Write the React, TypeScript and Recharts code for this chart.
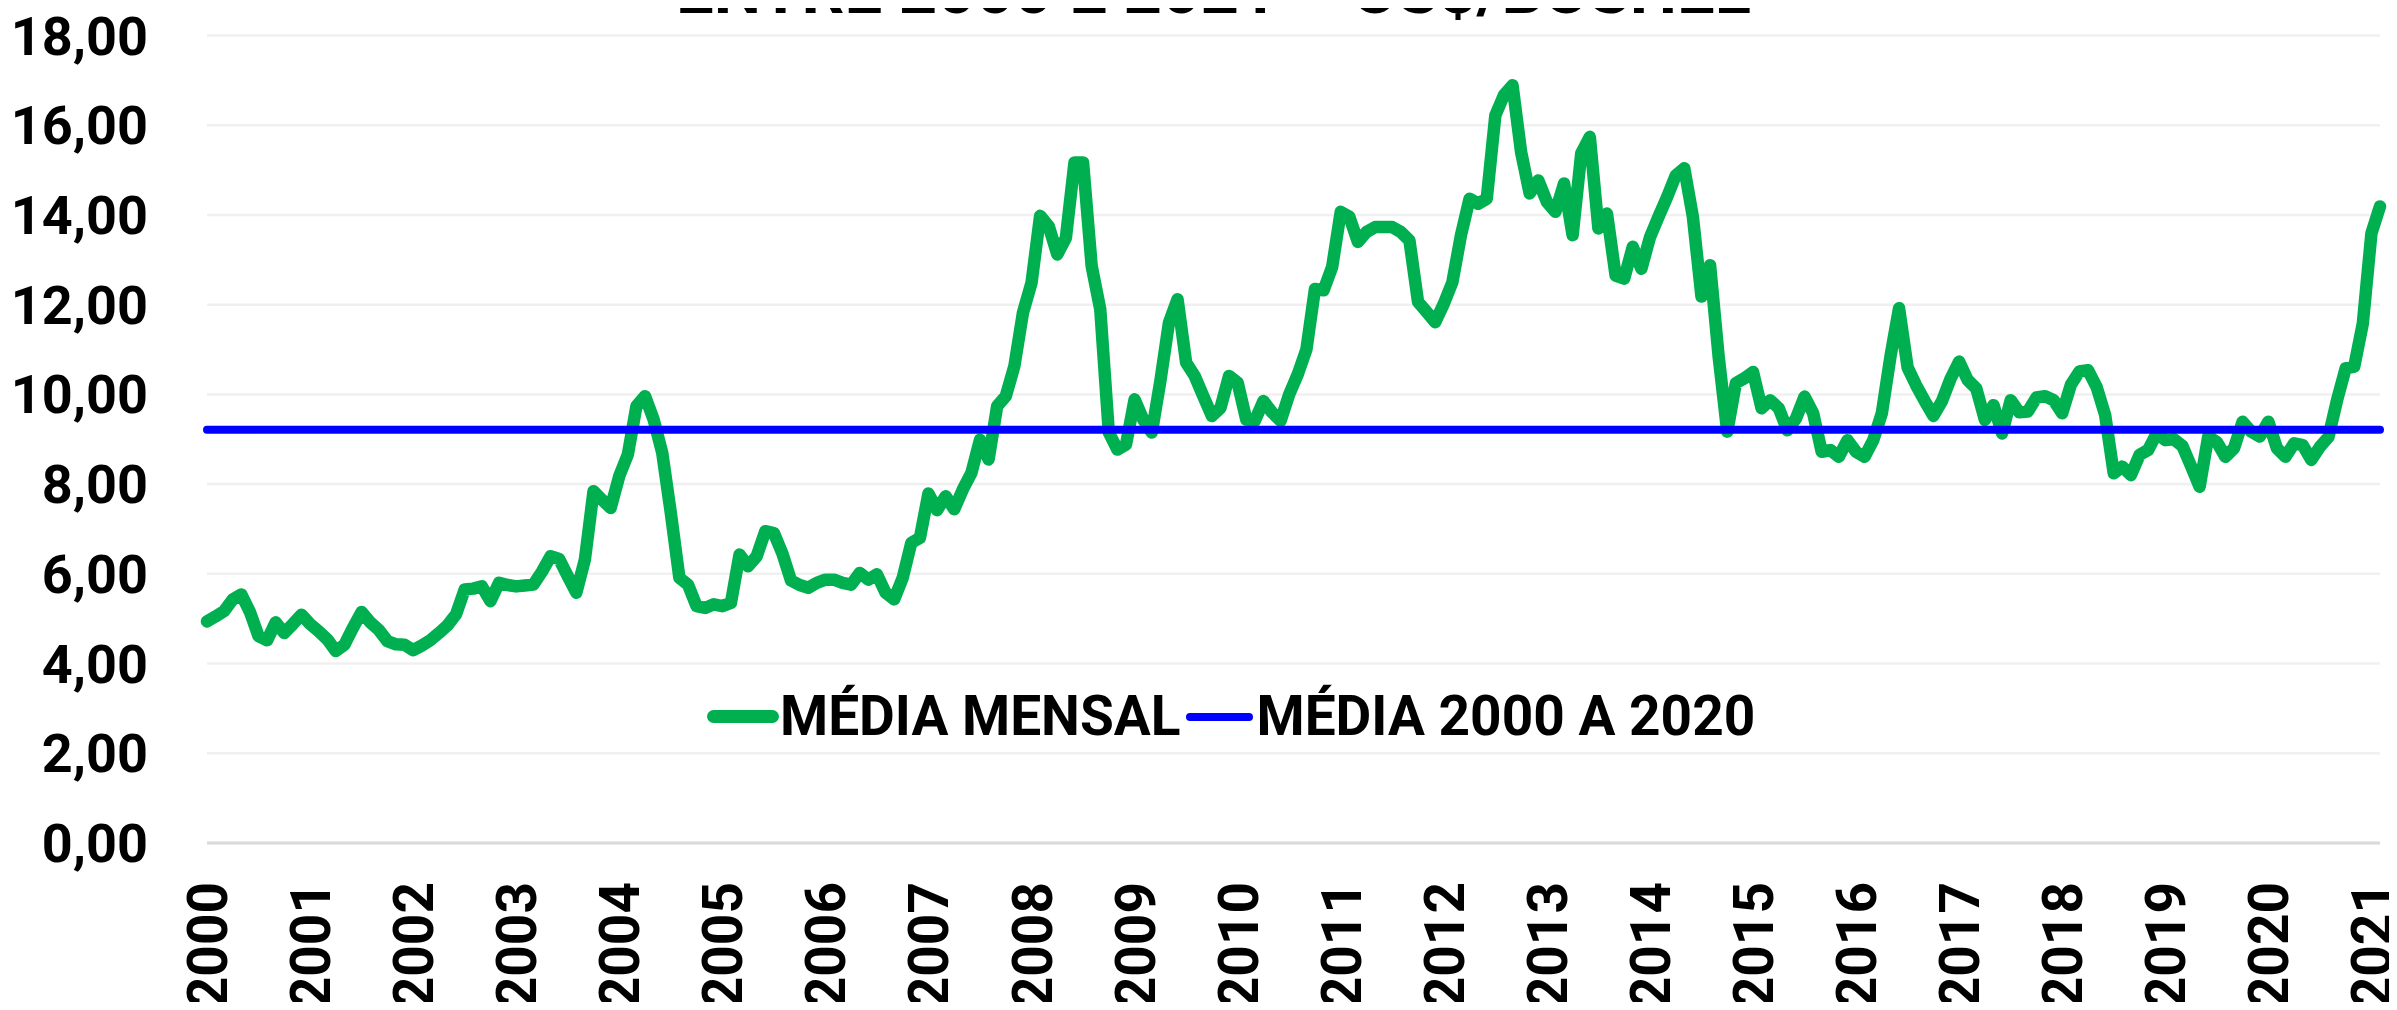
import React from 'react';
import { LineChart, Line, XAxis, YAxis, CartesianGrid, Legend } from 'recharts';

// Year tick labels
const years = ['2000','2001','2002','2003','2004','2005','2006','2007','2008','2009','2010','2011','2012','2013','2014','2015','2016','2017','2018','2019','2020','2021'];

// Monthly average values (US$/bushel), one array per year
const y2000 = [4.94, 5.05, 5.17, 5.43, 5.54, 5.15, 4.61, 4.52, 4.92, 4.68, 4.88, 5.09];
const y2001 = [4.88, 4.72, 4.54, 4.28, 4.42, 4.8, 5.15, 4.92, 4.75, 4.5, 4.43, 4.42];
const y2002 = [4.3, 4.4, 4.52, 4.68, 4.85, 5.1, 5.65, 5.67, 5.72, 5.39, 5.8, 5.75];
const y2003 = [5.72, 5.74, 5.76, 6.05, 6.39, 6.33, 5.95, 5.58, 6.32, 7.84, 7.65, 7.47];
const y2004 = [8.18, 8.66, 9.74, 9.96, 9.44, 8.7, 7.36, 5.91, 5.76, 5.28, 5.24, 5.32];
const y2005 = [5.28, 5.35, 6.43, 6.17, 6.39, 6.95, 6.91, 6.45, 5.85, 5.75, 5.69, 5.8];
const y2006 = [5.87, 5.87, 5.8, 5.76, 6.02, 5.87, 5.99, 5.58, 5.43, 5.91, 6.69, 6.8];
const y2007 = [7.79, 7.42, 7.73, 7.44, 7.88, 8.25, 8.99, 8.55, 9.74, 9.96, 10.63, 11.82];
const y2008 = [12.49, 13.98, 13.75, 13.12, 13.49, 15.17, 15.17, 12.86, 11.9, 9.15, 8.77, 8.88];
const y2009 = [9.89, 9.44, 9.15, 10.3, 11.6, 12.12, 10.71, 10.41, 9.96, 9.52, 9.7, 10.41];
const y2010 = [10.26, 9.44, 9.41, 9.85, 9.6, 9.41, 10.0, 10.45, 11.0, 12.35, 12.32, 12.84];
const y2011 = [14.07, 13.96, 13.4, 13.62, 13.73, 13.73, 13.73, 13.62, 13.43, 12.06, 11.84, 11.61];
const y2012 = [12.02, 12.5, 13.55, 14.36, 14.25, 14.36, 16.22, 16.67, 16.89, 15.4, 14.48, 14.77];
const y2013 = [14.29, 14.07, 14.7, 13.55, 15.37, 15.74, 13.7, 14.03, 12.65, 12.58, 13.29, 12.8];
const y2014 = [13.5, 13.96, 14.4, 14.88, 15.04, 13.96, 12.18, 12.88, 10.84, 9.17, 10.25, 10.36];
const y2015 = [10.5, 9.69, 9.87, 9.69, 9.2, 9.46, 9.95, 9.58, 8.72, 8.76, 8.61, 8.98];
const y2016 = [8.72, 8.61, 8.98, 9.58, 10.84, 11.92, 10.6, 10.2, 9.85, 9.52, 9.85, 10.35];
const y2017 = [10.73, 10.32, 10.13, 9.43, 9.76, 9.13, 9.87, 9.6, 9.62, 9.93, 9.96, 9.87];
const y2018 = [9.58, 10.21, 10.51, 10.54, 10.17, 9.54, 8.24, 8.39, 8.2, 8.65, 8.76, 9.13];
const y2019 = [8.98, 9.0, 8.85, 8.4, 7.94, 9.06, 8.94, 8.61, 8.8, 9.39, 9.17, 9.06];
const y2020 = [9.39, 8.8, 8.61, 8.91, 8.87, 8.54, 8.83, 9.05, 9.87, 10.58, 10.62, 11.58];
const y2021 = [13.59, 14.19];

// Average 2000-2020
const media2000a2020 = 9.21;

// Y axis ticks
const yTicks = [0, 2, 4, 6, 8, 10, 12, 14, 16, 18];

// Legend order
const seriesOrder = ['mensal', 'media'];

const monthly = [
  ...y2000, ...y2001, ...y2002, ...y2003, ...y2004, ...y2005, ...y2006, ...y2007,
  ...y2008, ...y2009, ...y2010, ...y2011, ...y2012, ...y2013, ...y2014, ...y2015,
  ...y2016, ...y2017, ...y2018, ...y2019, ...y2020, ...y2021,
];

const data = monthly.map((v, i) => ({ i, mensal: v, media: media2000a2020 }));
const xTicks = years.map((_, k) => k * 12);

const FONT = 'Roboto, "Noto Sans", sans-serif';

const YTick = (props: any) => {
  const { x, y, payload } = props;
  return (
    <text x={x} y={y} dy={19} textAnchor="end" fontFamily={FONT} fontWeight={700} fontSize={54} fill="#000">
      {Number(payload.value).toFixed(2).replace('.', ',')}
    </text>
  );
};

const XTick = (props: any) => {
  const { x, y, payload } = props;
  const label = years[Math.round(payload.value / 12)];
  return (
    <text
      x={x}
      y={y}
      dy={20}
      transform={`rotate(-90 ${x} ${y})`}
      textAnchor="end"
      fontFamily={FONT}
      fontWeight={700}
      fontSize={55}
      fill="#000"
    >
      {label}
    </text>
  );
};

const renderLegend = (props: any) => {
  const payload = [...(props.payload || [])].sort(
    (a: any, b: any) => seriesOrder.indexOf(a.dataKey) - seriesOrder.indexOf(b.dataKey)
  );
  return (
    <div style={{ display: 'flex', alignItems: 'center', fontFamily: FONT, fontWeight: 700, fontSize: 55, color: '#000', lineHeight: 1, whiteSpace: 'nowrap' }}>
      {payload.map((entry: any, idx: number) => {
        const isMensal = entry.dataKey === 'mensal';
        return (
          <div key={idx} style={{ display: 'flex', alignItems: 'center', marginRight: idx === 0 ? 5 : 0 }}>
            <div
              style={{
                width: isMensal ? 72 : 67,
                height: isMensal ? 13 : 8,
                borderRadius: 7,
                background: entry.color,
                marginRight: isMensal ? 1 : 4,
              }}
            />
            <span>{entry.value}</span>
          </div>
        );
      })}
    </div>
  );
};

export default function App() {
  return (
    <div style={{ position: 'relative', width: 2397, height: 1010, margin: -8, overflow: 'hidden', background: '#fff' }}>
      <div
        style={{
          position: 'absolute',
          left: 0,
          width: 2397,
          top: -43,
          textAlign: 'center',
          fontFamily: FONT,
          fontWeight: 700,
          fontSize: 67,
          lineHeight: 1,
          color: '#000',
          whiteSpace: 'nowrap',
          paddingLeft: 30,
          boxSizing: 'border-box',
        }}
      >
        ENTRE 2000 E 2021 – US$/BUSHEL
      </div>
      <LineChart width={2397} height={1010} data={data} margin={{ top: 35.5, right: 17, left: 0, bottom: 0 }}>
        <CartesianGrid vertical={false} stroke="#F0F0F0" strokeWidth={2.5} />
        <XAxis
          type="number"
          dataKey="i"
          domain={[0, monthly.length - 1]}
          ticks={xTicks}
          interval={0}
          height={167}
          tick={<XTick />}
          tickLine={false}
          tickSize={0}
          tickMargin={39}
          axisLine={{ stroke: '#D9D9D9', strokeWidth: 3 }}
        />
        <YAxis
          type="number"
          domain={[0, 18]}
          ticks={yTicks}
          width={207}
          tick={<YTick />}
          tickLine={false}
          tickSize={0}
          tickMargin={59}
          axisLine={false}
        />
        <Legend
          verticalAlign="middle"
          layout="horizontal"
          content={renderLegend}
          wrapperStyle={{ position: 'absolute', left: 707, top: 689, width: 'auto' }}
        />
        <Line
          type="linear"
          dataKey="mensal"
          name="MÉDIA MENSAL"
          stroke="#00B050"
          strokeWidth={12.5}
          strokeLinejoin="round"
          strokeLinecap="round"
          dot={false}
          activeDot={false}
          isAnimationActive={false}
        />
        <Line
          type="linear"
          dataKey="media"
          name="MÉDIA 2000 A 2020"
          stroke="#0000FF"
          strokeWidth={8}
          strokeLinecap="round"
          dot={false}
          activeDot={false}
          isAnimationActive={false}
        />
      </LineChart>
    </div>
  );
}
